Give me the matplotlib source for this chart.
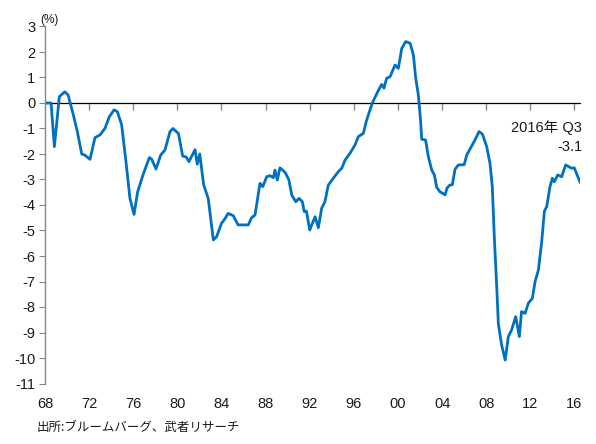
import matplotlib
matplotlib.use('Agg')
import matplotlib.pyplot as plt

plt.rcParams['font.family'] = ['Liberation Sans', 'Noto Sans CJK JP', 'DejaVu Sans']

# 四半期データ（チャートから読み取り）
years = [1968.0, 1968.55, 1968.85, 1969.3, 1969.8, 1970.1, 1970.57, 1970.93, 1971.33, 1971.6,
         1972.08, 1972.53, 1972.99, 1973.44, 1973.83, 1974.26, 1974.56, 1974.95, 1975.34, 1975.7,
         1976.07, 1976.4, 1976.9, 1977.46, 1977.67, 1978.06, 1978.49, 1978.88, 1979.33, 1979.6,
         1980.1, 1980.48, 1980.8, 1981.05, 1981.6, 1981.8, 1982.03, 1982.38, 1982.8, 1983.26,
         1983.56, 1984.0, 1984.3, 1984.6, 1985.07, 1985.5, 1986.43, 1986.73, 1987.04, 1987.49,
         1987.74, 1988.1, 1988.4, 1988.7, 1988.85, 1989.06, 1989.3, 1989.76, 1990.1, 1990.37,
         1990.73, 1991.03, 1991.33, 1991.5, 1991.7, 1992.0, 1992.48, 1992.78, 1993.08, 1993.38,
         1993.68, 1994.14, 1994.6, 1994.9, 1995.2, 1995.65, 1996.1, 1996.4, 1996.86, 1997.16,
         1997.67, 1998.16, 1998.52, 1998.73, 1998.97, 1999.28, 1999.73, 2000.03, 2000.34, 2000.7,
         2001.1, 2001.4, 2001.6, 2001.85, 2002.05, 2002.15, 2002.5, 2002.75, 2003.06, 2003.3,
         2003.5, 2003.8, 2004.27, 2004.45, 2004.7, 2004.93, 2005.17, 2005.47, 2006.0, 2006.23,
         2006.68, 2006.98, 2007.35, 2007.65, 2008.04, 2008.34, 2008.55, 2008.73, 2008.95, 2009.1,
         2009.4, 2009.72, 2010.0, 2010.3, 2010.67, 2011.0, 2011.2, 2011.52, 2011.82, 2012.18,
         2012.43, 2012.73, 2013.03, 2013.27, 2013.48, 2013.78, 2013.99, 2014.17, 2014.48, 2014.84,
         2015.2, 2015.5, 2015.75, 2015.98, 2016.5]
values = [0.0, 0.0, -1.71, 0.25, 0.44, 0.31, -0.47, -1.12, -2.0, -2.04,
          -2.21, -1.36, -1.25, -0.99, -0.54, -0.27, -0.34, -0.86, -2.3, -3.74,
          -4.37, -3.48, -2.8, -2.14, -2.2, -2.59, -2.04, -1.84, -1.12, -1.0,
          -1.2, -2.08, -2.12, -2.3, -1.83, -2.4, -2.0, -3.2, -3.75, -5.37,
          -5.24, -4.72, -4.55, -4.33, -4.42, -4.78, -4.78, -4.5, -4.39, -3.15,
          -3.28, -2.89, -2.85, -2.93, -2.63, -3.02, -2.54, -2.72, -3.0, -3.61,
          -3.87, -3.74, -3.87, -4.26, -4.24, -4.98, -4.46, -4.89, -4.13, -3.87,
          -3.22, -2.95, -2.69, -2.56, -2.24, -1.97, -1.65, -1.32, -1.19, -0.67,
          0.0, 0.44, 0.73, 0.58, 0.97, 1.03, 1.49, 1.36, 2.14, 2.41,
          2.34, 1.88, 1.0, 0.3, -0.7, -1.42, -1.45, -2.1, -2.63, -2.82,
          -3.3, -3.48, -3.6, -3.33, -3.22, -3.2, -2.6, -2.43, -2.42, -2.04,
          -1.69, -1.45, -1.12, -1.22, -1.71, -2.37, -3.28, -5.24, -7.2, -8.67,
          -9.5, -10.08, -9.16, -8.9, -8.38, -9.16, -8.18, -8.25, -7.85, -7.66,
          -7.0, -6.55, -5.44, -4.24, -4.07, -3.28, -2.95, -3.09, -2.82, -2.89,
          -2.43, -2.5, -2.56, -2.54, -3.1]

xtick_years = [1968, 1972, 1976, 1980, 1984, 1988, 1992, 1996, 2000, 2004, 2008, 2012, 2016]
xtick_labels = ['68', '72', '76', '80', '84', '88', '92', '96', '00', '04', '08', '12', '16']
yticks = list(range(-11, 4))

fig = plt.figure(figsize=(5.96, 4.44), dpi=100)
ax = fig.add_axes([45/596, 1-383.5/444, 535/596, 357/444])

ax.plot(years, values, color='#0070C0', lw=2.0, solid_joinstyle='round')

ax.set_xlim(1968, 2016.5)
ax.set_ylim(-11, 3)

axis_col = '#868686'
for s in ['top', 'right', 'bottom']:
    ax.spines[s].set_visible(False)
ax.spines['left'].set_color(axis_col)
ax.spines['left'].set_linewidth(1.0)

ax.set_yticks(yticks)
ax.set_yticklabels([str(v) for v in yticks])
ax.tick_params(axis='y', direction='out', length=4, color=axis_col, labelsize=10.5,
               labelcolor='#1a1a1a', pad=3)

# 下側のラベル（目盛り線なし）
ax.set_xticks(xtick_years)
ax.set_xticklabels(xtick_labels)
ax.tick_params(axis='x', length=0, labelsize=10.5, labelcolor='#1a1a1a', pad=10)

# ゼロの位置の横軸（目盛りは下向き）
sec = ax.secondary_xaxis(11/14)
sec.spines['bottom'].set_color(axis_col)
sec.spines['bottom'].set_linewidth(1.0)
sec.set_xticks(xtick_years[1:], labels=[])
sec.xaxis.set_ticks_position('bottom')
sec.tick_params(axis='x', direction='out', length=5, color=axis_col, width=1.0,
                labelbottom=False, labeltop=False)
ax.axhline(0, color=axis_col, lw=1.0, zorder=0)

ax.text(2016.7, -0.97, '2016年 Q3', ha='right', va='center', fontsize=10.5,
        color='#1a1a1a', clip_on=False)
ax.text(2016.7, -1.71, '-3.1', ha='right', va='center', fontsize=10.5,
        color='#1a1a1a', clip_on=False)

fig.text(40/596, 1-20/444, '(%)', ha='left', va='center', fontsize=8.5, color='#1a1a1a')
fig.text(37/596, 1-427/444, '出所:ブルームバーグ、武者リサーチ', ha='left', va='center',
         fontsize=9, color='#1a1a1a', family=['Noto Sans CJK JP', 'DejaVu Sans'])

fig.savefig('out.png', dpi=100)
